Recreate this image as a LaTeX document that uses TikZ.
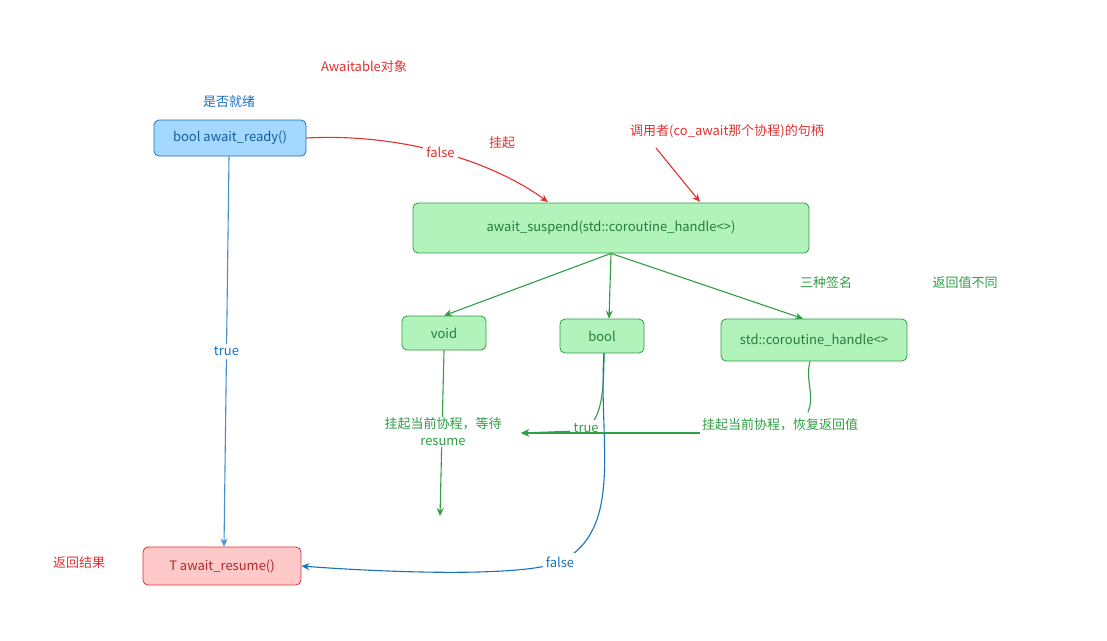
\documentclass[tikz,border=0pt]{standalone}
\usepackage{fontspec}
\setmainfont{Noto Sans CJK SC}
\usetikzlibrary{arrows.meta,positioning}
\definecolor{bluefill}{HTML}{A5D8FF}
\definecolor{blueline}{HTML}{1971C2}
\definecolor{greenfill}{HTML}{B2F2BB}
\definecolor{greenline}{HTML}{2F9E44}
\definecolor{redfill}{HTML}{FFC9C9}
\definecolor{redline}{HTML}{E03131}
\begin{document}
\begin{tikzpicture}[
    x=1pt, y=-1pt,
    >={Stealth[length=8pt,width=7pt]},
    font=\fontsize{13}{17}\selectfont,
    box/.style={rectangle, rounded corners=5pt, draw, thick, align=center, inner sep=0pt},
    bluebox/.style={box, fill=bluefill, draw=blueline, text=blueline!80!black},
    greenbox/.style={box, fill=greenfill, draw=greenline, text=greenline!80!black},
    redbox/.style={box, fill=redfill, draw=redline, text=redline!80!black},
    note/.style={align=center, inner sep=1pt},
    every path/.style={line width=1.1pt}
    ]
    \useasboundingbox (0,0) rectangle (1107,640);

    % Awaitable methods
    \node[bluebox, minimum width=152pt, minimum height=36pt] (ready) at (230,138) {bool await\_ready()};
    \node[greenbox, minimum width=396pt, minimum height=50pt] (suspend) at (611,228) {await\_suspend(std::coroutine\_handle<>)};
    \node[redbox, minimum width=158pt, minimum height=38pt] (resume) at (222,566) {T await\_resume()};

    % Return types
    \node[greenbox, minimum width=84pt, minimum height=34pt] (void) at (444,333) {void};
    \node[greenbox, minimum width=84pt, minimum height=34pt] (bool) at (602,336) {bool};
    \node[greenbox, minimum width=186pt, minimum height=42pt] (handle) at (814,340) {std::coroutine\_handle<>};

    % Annotations
    \node[note, text=redline] (awaitable) at (364,67) {Awaitable对象};
    \node[note, text=blueline] (isready) at (229,102) {是否就绪};
    \node[note, text=redline] (susp) at (502,143) {挂起};
    \node[note, text=redline] (caller) at (727,131) {调用者(co\_await那个协程)的句柄};
    \node[note, text=greenline] (sig) at (826,283) {三种签名};
    \node[note, text=greenline] (diff) at (965,283) {返回值不同};
    \node[note, text=redline] (result) at (79,563) {返回结果};

    % Arrows from await_ready
    \draw[->, redline] (ready.east) .. controls (400,133) and (490,160) .. node[pos=0.5, fill=white, text=redline]{false} (548,202);
    \draw[->, redline] (656,148) -- (700,202);
    \draw[->, blueline!80!white] (ready.south -| 229,0) -- node[fill=white, text=blueline]{true} (resume.north -| 224,0);

    % Branches of await_suspend
    \draw[->, greenline] (suspend.south) -- (void.north);
    \draw[->, greenline] (suspend.south) -- (bool.north -| 609,0);
    \draw[->, greenline] (suspend.south) -- (handle.north -| 803,0);

    % void: suspend and wait
    \coordinate (voidend) at (440,516);
    \draw[->, greenline] (void.south) -- (voidend);
    \node[note, fill=white, text=greenline] (wait) at (443,432) {挂起当前协程，等待\\resume};

    % bool: true / false
    \coordinate (waitin) at (521,433);
    \draw[->, greenline] (bool.south -| 604,0) .. controls (604,400) and (600,428) .. node[pos=0.85, fill=white, text=greenline]{true} (577,431) -- (waitin);
    \draw[->, blueline] (bool.south -| 604,0) .. controls (598,440) and (625,530) .. (560,562) node[fill=white, text=blueline]{false} .. controls (520,578) and (380,572) .. (resume.east);

    % handle: resume returned handle
    \node[note, text=greenline] (resumeret) at (780,425) {挂起当前协程，恢复返回值};
    \draw[greenline] (handle.south -| 810,0) .. controls (805,380) and (815,395) .. (808,412);
    \draw[->, greenline] (resumeret.west |- waitin) -- (waitin);
\end{tikzpicture}
\end{document}
